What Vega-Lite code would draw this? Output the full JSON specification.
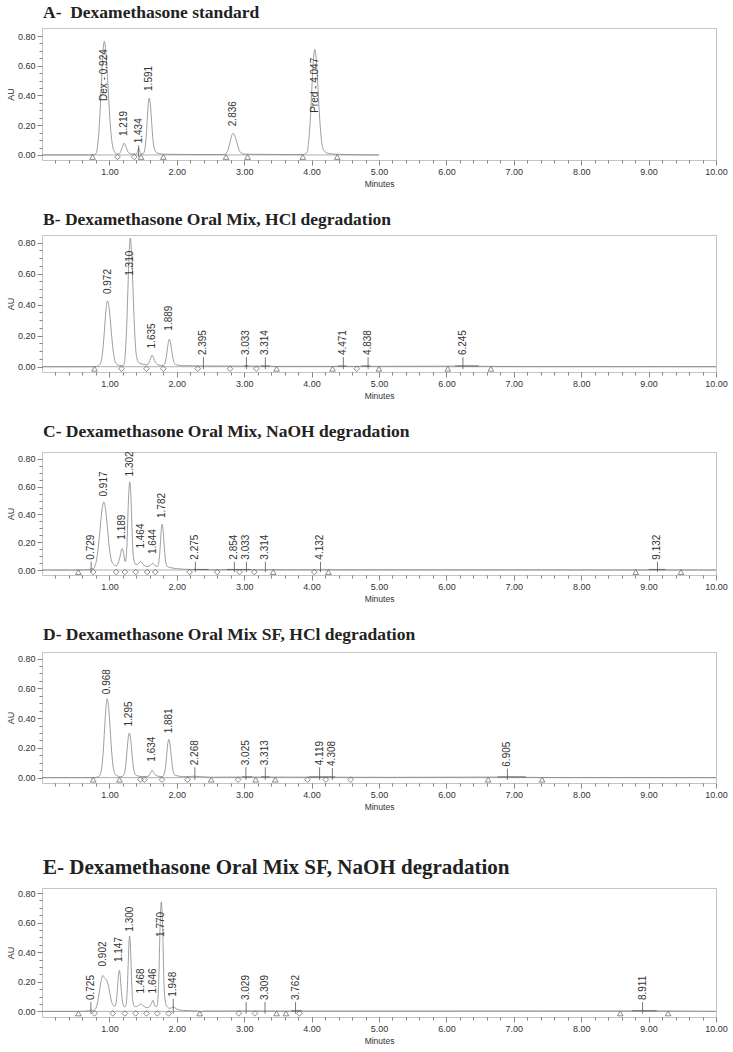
{
"$schema":"https://vega.github.io/schema/vega-lite/v6.json",
"padding":{"top":3,"left":5,"right":5,"bottom":0},
"background":"white",
"datasets":{
"trace":[
{"p":"A","t":0,"au":0},{"p":"A","t":0.7,"au":0},{"p":"A","t":0.75,"au":0.001},{"p":"A","t":0.8,"au":0.008},{"p":"A","t":0.834,"au":0.1},{"p":"A","t":0.857,"au":0.25},{"p":"A","t":0.879,"au":0.464},{"p":"A","t":0.902,"au":0.675},{"p":"A","t":0.924,"au":0.765},{"p":"A","t":0.951,"au":0.675},{"p":"A","t":0.979,"au":0.464},{"p":"A","t":1.006,"au":0.25},{"p":"A","t":1.034,"au":0.103},{"p":"A","t":1.07,"au":0.025},{"p":"A","t":1.1,"au":0.01},{"p":"A","t":1.13,"au":0.006},{"p":"A","t":1.16,"au":0.015},{"p":"A","t":1.19,"au":0.05},{"p":"A","t":1.219,"au":0.08},{"p":"A","t":1.25,"au":0.05},{"p":"A","t":1.28,"au":0.018},{"p":"A","t":1.33,"au":0.007},{"p":"A","t":1.4,"au":0.006},{"p":"A","t":1.422,"au":0.03},{"p":"A","t":1.434,"au":0.047},{"p":"A","t":1.446,"au":0.03},{"p":"A","t":1.47,"au":0.008},{"p":"A","t":1.5,"au":0.008},{"p":"A","t":1.531,"au":0.055},{"p":"A","t":1.546,"au":0.125},{"p":"A","t":1.561,"au":0.232},{"p":"A","t":1.576,"au":0.338},{"p":"A","t":1.591,"au":0.383},{"p":"A","t":1.608,"au":0.338},{"p":"A","t":1.625,"au":0.232},{"p":"A","t":1.642,"au":0.125},{"p":"A","t":1.66,"au":0.055},{"p":"A","t":1.7,"au":0.015},{"p":"A","t":1.8,"au":0.005},{"p":"A","t":2.2,"au":0.003},{"p":"A","t":2.7,"au":0.003},{"p":"A","t":2.746,"au":0.02},{"p":"A","t":2.768,"au":0.047},{"p":"A","t":2.791,"au":0.088},{"p":"A","t":2.813,"au":0.128},{"p":"A","t":2.836,"au":0.145},{"p":"A","t":2.862,"au":0.128},{"p":"A","t":2.888,"au":0.088},{"p":"A","t":2.914,"au":0.047},{"p":"A","t":2.94,"au":0.02},{"p":"A","t":2.98,"au":0.008},{"p":"A","t":3.05,"au":0.005},{"p":"A","t":3.5,"au":0.003},{"p":"A","t":3.88,"au":0.002},{"p":"A","t":3.935,"au":0.02},{"p":"A","t":3.957,"au":0.096},{"p":"A","t":3.98,"au":0.231},{"p":"A","t":4.002,"au":0.431},{"p":"A","t":4.025,"au":0.626},{"p":"A","t":4.047,"au":0.71},{"p":"A","t":4.072,"au":0.626},{"p":"A","t":4.097,"au":0.431},{"p":"A","t":4.122,"au":0.231},{"p":"A","t":4.147,"au":0.096},{"p":"A","t":4.18,"au":0.03},{"p":"A","t":4.25,"au":0.01},{"p":"A","t":4.4,"au":0.004},{"p":"A","t":5.0,"au":0},
{"p":"B","t":0,"au":0},{"p":"B","t":0.78,"au":0},{"p":"B","t":0.83,"au":0.005},{"p":"B","t":0.866,"au":0.02},{"p":"B","t":0.888,"au":0.057},{"p":"B","t":0.909,"au":0.138},{"p":"B","t":0.93,"au":0.257},{"p":"B","t":0.951,"au":0.374},{"p":"B","t":0.972,"au":0.424},{"p":"B","t":0.997,"au":0.374},{"p":"B","t":1.022,"au":0.257},{"p":"B","t":1.047,"au":0.138},{"p":"B","t":1.072,"au":0.057},{"p":"B","t":1.1,"au":0.02},{"p":"B","t":1.15,"au":0.008},{"p":"B","t":1.2,"au":0.006},{"p":"B","t":1.225,"au":0.03},{"p":"B","t":1.24,"au":0.115},{"p":"B","t":1.2575,"au":0.27},{"p":"B","t":1.275,"au":0.504},{"p":"B","t":1.2925,"au":0.732},{"p":"B","t":1.31,"au":0.83},{"p":"B","t":1.33,"au":0.732},{"p":"B","t":1.35,"au":0.504},{"p":"B","t":1.37,"au":0.27},{"p":"B","t":1.39,"au":0.115},{"p":"B","t":1.41,"au":0.05},{"p":"B","t":1.44,"au":0.025},{"p":"B","t":1.5,"au":0.016},{"p":"B","t":1.56,"au":0.012},{"p":"B","t":1.6,"au":0.04},{"p":"B","t":1.635,"au":0.075},{"p":"B","t":1.67,"au":0.04},{"p":"B","t":1.72,"au":0.012},{"p":"B","t":1.8,"au":0.008},{"p":"B","t":1.829,"au":0.03},{"p":"B","t":1.844,"au":0.063},{"p":"B","t":1.859,"au":0.11},{"p":"B","t":1.874,"au":0.157},{"p":"B","t":1.889,"au":0.178},{"p":"B","t":1.906,"au":0.157},{"p":"B","t":1.923,"au":0.11},{"p":"B","t":1.94,"au":0.063},{"p":"B","t":1.957,"au":0.03},{"p":"B","t":1.99,"au":0.012},{"p":"B","t":2.1,"au":0.007},{"p":"B","t":2.4,"au":0.005},{"p":"B","t":3.0,"au":0.004},{"p":"B","t":3.033,"au":0.007},{"p":"B","t":3.1,"au":0.004},{"p":"B","t":3.5,"au":0.002},{"p":"B","t":4.5,"au":0.002},{"p":"B","t":6.245,"au":0.004},{"p":"B","t":7.0,"au":0.001},{"p":"B","t":10,"au":0},
{"p":"C","t":0,"au":0},{"p":"C","t":0.55,"au":0},{"p":"C","t":0.7,"au":0.003},{"p":"C","t":0.729,"au":0.01},{"p":"C","t":0.76,"au":0.008},{"p":"C","t":0.785,"au":0.03},{"p":"C","t":0.807,"au":0.066},{"p":"C","t":0.8345,"au":0.16},{"p":"C","t":0.862,"au":0.297},{"p":"C","t":0.8895,"au":0.432},{"p":"C","t":0.917,"au":0.49},{"p":"C","t":0.9445,"au":0.432},{"p":"C","t":0.972,"au":0.297},{"p":"C","t":0.9995,"au":0.16},{"p":"C","t":1.027,"au":0.075},{"p":"C","t":1.06,"au":0.04},{"p":"C","t":1.1,"au":0.03},{"p":"C","t":1.13,"au":0.05},{"p":"C","t":1.159,"au":0.1},{"p":"C","t":1.174,"au":0.137},{"p":"C","t":1.189,"au":0.155},{"p":"C","t":1.204,"au":0.137},{"p":"C","t":1.22,"au":0.09},{"p":"C","t":1.235,"au":0.06},{"p":"C","t":1.25,"au":0.1},{"p":"C","t":1.262,"au":0.2},{"p":"C","t":1.274,"au":0.385},{"p":"C","t":1.288,"au":0.56},{"p":"C","t":1.302,"au":0.635},{"p":"C","t":1.316,"au":0.56},{"p":"C","t":1.33,"au":0.385},{"p":"C","t":1.344,"au":0.18},{"p":"C","t":1.36,"au":0.08},{"p":"C","t":1.39,"au":0.04},{"p":"C","t":1.42,"au":0.04},{"p":"C","t":1.44,"au":0.05},{"p":"C","t":1.464,"au":0.062},{"p":"C","t":1.5,"au":0.04},{"p":"C","t":1.55,"au":0.025},{"p":"C","t":1.6,"au":0.03},{"p":"C","t":1.644,"au":0.048},{"p":"C","t":1.68,"au":0.03},{"p":"C","t":1.71,"au":0.025},{"p":"C","t":1.725,"au":0.035},{"p":"C","t":1.737,"au":0.07},{"p":"C","t":1.748,"au":0.13},{"p":"C","t":1.76,"au":0.22},{"p":"C","t":1.771,"au":0.3},{"p":"C","t":1.782,"au":0.33},{"p":"C","t":1.796,"au":0.29},{"p":"C","t":1.81,"au":0.2},{"p":"C","t":1.824,"au":0.107},{"p":"C","t":1.838,"au":0.05},{"p":"C","t":1.86,"au":0.025},{"p":"C","t":1.9,"au":0.018},{"p":"C","t":2.0,"au":0.01},{"p":"C","t":2.2,"au":0.004},{"p":"C","t":2.5,"au":0.002},{"p":"C","t":10,"au":0},
{"p":"D","t":0,"au":0},{"p":"D","t":0.78,"au":0},{"p":"D","t":0.848,"au":0.01},{"p":"D","t":0.888,"au":0.072},{"p":"D","t":0.908,"au":0.172},{"p":"D","t":0.928,"au":0.322},{"p":"D","t":0.948,"au":0.467},{"p":"D","t":0.968,"au":0.53},{"p":"D","t":0.99,"au":0.467},{"p":"D","t":1.012,"au":0.322},{"p":"D","t":1.034,"au":0.172},{"p":"D","t":1.056,"au":0.072},{"p":"D","t":1.09,"au":0.02},{"p":"D","t":1.17,"au":0.006},{"p":"D","t":1.205,"au":0.012},{"p":"D","t":1.229,"au":0.041},{"p":"D","t":1.2455,"au":0.098},{"p":"D","t":1.262,"au":0.182},{"p":"D","t":1.2785,"au":0.265},{"p":"D","t":1.295,"au":0.3},{"p":"D","t":1.313,"au":0.265},{"p":"D","t":1.331,"au":0.182},{"p":"D","t":1.349,"au":0.098},{"p":"D","t":1.367,"au":0.041},{"p":"D","t":1.4,"au":0.014},{"p":"D","t":1.5,"au":0.007},{"p":"D","t":1.58,"au":0.01},{"p":"D","t":1.61,"au":0.03},{"p":"D","t":1.634,"au":0.05},{"p":"D","t":1.66,"au":0.03},{"p":"D","t":1.72,"au":0.01},{"p":"D","t":1.79,"au":0.007},{"p":"D","t":1.821,"au":0.04},{"p":"D","t":1.836,"au":0.084},{"p":"D","t":1.851,"au":0.156},{"p":"D","t":1.866,"au":0.227},{"p":"D","t":1.881,"au":0.257},{"p":"D","t":1.898,"au":0.227},{"p":"D","t":1.915,"au":0.156},{"p":"D","t":1.932,"au":0.084},{"p":"D","t":1.949,"au":0.04},{"p":"D","t":1.98,"au":0.015},{"p":"D","t":2.1,"au":0.007},{"p":"D","t":2.268,"au":0.009},{"p":"D","t":2.5,"au":0.003},{"p":"D","t":3.025,"au":0.004},{"p":"D","t":4.2,"au":0.003},{"p":"D","t":5.2,"au":0.002},{"p":"D","t":6.905,"au":0.004},{"p":"D","t":7.4,"au":0.001},{"p":"D","t":10,"au":0},
{"p":"E","t":0,"au":0},{"p":"E","t":0.55,"au":0},{"p":"E","t":0.7,"au":0.004},{"p":"E","t":0.725,"au":0.01},{"p":"E","t":0.75,"au":0.006},{"p":"E","t":0.78,"au":0.01},{"p":"E","t":0.82,"au":0.05},{"p":"E","t":0.85,"au":0.13},{"p":"E","t":0.875,"au":0.2},{"p":"E","t":0.902,"au":0.243},{"p":"E","t":0.93,"au":0.225},{"p":"E","t":0.96,"au":0.21},{"p":"E","t":0.99,"au":0.165},{"p":"E","t":1.02,"au":0.09},{"p":"E","t":1.05,"au":0.045},{"p":"E","t":1.08,"au":0.035},{"p":"E","t":1.097,"au":0.05},{"p":"E","t":1.11,"au":0.1},{"p":"E","t":1.122,"au":0.17},{"p":"E","t":1.135,"au":0.245},{"p":"E","t":1.147,"au":0.277},{"p":"E","t":1.16,"au":0.245},{"p":"E","t":1.172,"au":0.17},{"p":"E","t":1.185,"au":0.1},{"p":"E","t":1.2,"au":0.05},{"p":"E","t":1.225,"au":0.03},{"p":"E","t":1.245,"au":0.04},{"p":"E","t":1.258,"au":0.09},{"p":"E","t":1.268,"au":0.18},{"p":"E","t":1.278,"au":0.31},{"p":"E","t":1.289,"au":0.45},{"p":"E","t":1.3,"au":0.51},{"p":"E","t":1.311,"au":0.45},{"p":"E","t":1.322,"au":0.31},{"p":"E","t":1.333,"au":0.17},{"p":"E","t":1.344,"au":0.08},{"p":"E","t":1.37,"au":0.035},{"p":"E","t":1.4,"au":0.032},{"p":"E","t":1.43,"au":0.04},{"p":"E","t":1.468,"au":0.05},{"p":"E","t":1.51,"au":0.035},{"p":"E","t":1.56,"au":0.025},{"p":"E","t":1.6,"au":0.035},{"p":"E","t":1.625,"au":0.055},{"p":"E","t":1.646,"au":0.075},{"p":"E","t":1.665,"au":0.05},{"p":"E","t":1.69,"au":0.03},{"p":"E","t":1.71,"au":0.04},{"p":"E","t":1.722,"au":0.1},{"p":"E","t":1.733,"au":0.22},{"p":"E","t":1.745,"au":0.45},{"p":"E","t":1.757,"au":0.65},{"p":"E","t":1.77,"au":0.74},{"p":"E","t":1.783,"au":0.65},{"p":"E","t":1.796,"au":0.45},{"p":"E","t":1.808,"au":0.22},{"p":"E","t":1.82,"au":0.1},{"p":"E","t":1.85,"au":0.035},{"p":"E","t":1.9,"au":0.02},{"p":"E","t":1.948,"au":0.03},{"p":"E","t":2.0,"au":0.015},{"p":"E","t":2.1,"au":0.006},{"p":"E","t":2.3,"au":0.003},{"p":"E","t":2.35,"au":-0.004},{"p":"E","t":2.4,"au":0.002},{"p":"E","t":3.0,"au":0.003},{"p":"E","t":3.8,"au":0.002},{"p":"E","t":8.9,"au":0.003},{"p":"E","t":10,"au":0}
],
"peaks":[
{"p":"A","t":0.924,"label":"Dex - 0.924","au":0.35,"v":false},{"p":"A","t":1.219,"label":"1.219","au":0.114,"v":false},{"p":"A","t":1.434,"label":"1.434","au":0.065,"v":true},{"p":"A","t":1.591,"label":"1.591","au":0.417,"v":false},{"p":"A","t":2.836,"label":"2.836","au":0.18,"v":false},{"p":"A","t":4.047,"label":"Pred - 4.047","au":0.27,"v":false},
{"p":"B","t":0.972,"label":"0.972","au":0.456,"v":false},{"p":"B","t":1.31,"label":"1.310","au":0.574,"v":false},{"p":"B","t":1.635,"label":"1.635","au":0.105,"v":false},{"p":"B","t":1.889,"label":"1.889","au":0.22,"v":false},{"p":"B","t":2.395,"label":"2.395","au":0.062,"v":true},{"p":"B","t":3.033,"label":"3.033","au":0.062,"v":true},{"p":"B","t":3.314,"label":"3.314","au":0.062,"v":true},{"p":"B","t":4.471,"label":"4.471","au":0.062,"v":true},{"p":"B","t":4.838,"label":"4.838","au":0.062,"v":true},{"p":"B","t":6.245,"label":"6.245","au":0.062,"v":true},
{"p":"C","t":0.729,"label":"0.729","au":0.06,"v":true},{"p":"C","t":0.917,"label":"0.917","au":0.515,"v":false},{"p":"C","t":1.189,"label":"1.189","au":0.204,"v":false},{"p":"C","t":1.302,"label":"1.302","au":0.66,"v":false},{"p":"C","t":1.464,"label":"1.464","au":0.14,"v":false},{"p":"C","t":1.644,"label":"1.644","au":0.1,"v":false},{"p":"C","t":1.782,"label":"1.782","au":0.36,"v":false},{"p":"C","t":2.275,"label":"2.275","au":0.06,"v":true},{"p":"C","t":2.854,"label":"2.854","au":0.06,"v":true},{"p":"C","t":3.033,"label":"3.033","au":0.06,"v":true},{"p":"C","t":3.314,"label":"3.314","au":0.06,"v":true},{"p":"C","t":4.132,"label":"4.132","au":0.06,"v":true},{"p":"C","t":9.132,"label":"9.132","au":0.06,"v":true},
{"p":"D","t":0.968,"label":"0.968","au":0.547,"v":false},{"p":"D","t":1.295,"label":"1.295","au":0.33,"v":false},{"p":"D","t":1.634,"label":"1.634","au":0.094,"v":false},{"p":"D","t":1.881,"label":"1.881","au":0.284,"v":false},{"p":"D","t":2.268,"label":"2.268","au":0.07,"v":true},{"p":"D","t":3.025,"label":"3.025","au":0.07,"v":true},{"p":"D","t":3.313,"label":"3.313","au":0.07,"v":true},{"p":"D","t":4.119,"label":"4.119","au":0.07,"v":true},{"p":"D","t":4.308,"label":"4.308","au":0.065,"v":true},{"p":"D","t":6.905,"label":"6.905","au":0.06,"v":true},
{"p":"E","t":0.725,"label":"0.725","au":0.063,"v":true},{"p":"E","t":0.902,"label":"0.902","au":0.29,"v":false},{"p":"E","t":1.147,"label":"1.147","au":0.32,"v":false},{"p":"E","t":1.3,"label":"1.300","au":0.525,"v":false},{"p":"E","t":1.468,"label":"1.468","au":0.108,"v":false},{"p":"E","t":1.646,"label":"1.646","au":0.108,"v":false},{"p":"E","t":1.77,"label":"1.770","au":0.49,"v":false},{"p":"E","t":1.948,"label":"1.948","au":0.085,"v":true},{"p":"E","t":3.029,"label":"3.029","au":0.063,"v":true},{"p":"E","t":3.309,"label":"3.309","au":0.063,"v":true},{"p":"E","t":3.762,"label":"3.762","au":0.063,"v":true},{"p":"E","t":8.911,"label":"8.911","au":0.063,"v":true}
],
"marks":[
{"p":"A","t":0.75,"au":0,"s":"tri"},{"p":"A","t":1.12,"au":0,"s":"dia"},{"p":"A","t":1.37,"au":0,"s":"dia"},{"p":"A","t":1.47,"au":0,"s":"tri"},{"p":"A","t":1.8,"au":0,"s":"tri"},{"p":"A","t":2.73,"au":0,"s":"tri"},{"p":"A","t":3.05,"au":0,"s":"tri"},{"p":"A","t":3.87,"au":0,"s":"tri"},{"p":"A","t":4.38,"au":0,"s":"tri"},
{"p":"B","t":0.78,"au":0,"s":"tri"},{"p":"B","t":1.18,"au":0,"s":"dia"},{"p":"B","t":1.55,"au":0,"s":"dia"},{"p":"B","t":1.8,"au":0,"s":"dia"},{"p":"B","t":2.31,"au":0,"s":"dia"},{"p":"B","t":2.79,"au":0,"s":"dia"},{"p":"B","t":3.18,"au":0,"s":"dia"},{"p":"B","t":3.48,"au":0,"s":"tri"},{"p":"B","t":4.31,"au":0,"s":"tri"},{"p":"B","t":4.67,"au":0,"s":"dia"},{"p":"B","t":5.0,"au":0,"s":"tri"},{"p":"B","t":6.02,"au":0,"s":"tri"},{"p":"B","t":6.66,"au":0,"s":"tri"},
{"p":"C","t":0.54,"au":0,"s":"tri"},{"p":"C","t":0.76,"au":0,"s":"dia"},{"p":"C","t":1.1,"au":0,"s":"dia"},{"p":"C","t":1.23,"au":0,"s":"dia"},{"p":"C","t":1.39,"au":0,"s":"dia"},{"p":"C","t":1.56,"au":0,"s":"dia"},{"p":"C","t":1.68,"au":0,"s":"dia"},{"p":"C","t":2.19,"au":0,"s":"dia"},{"p":"C","t":2.6,"au":0,"s":"dia"},{"p":"C","t":2.93,"au":0,"s":"dia"},{"p":"C","t":3.15,"au":0,"s":"dia"},{"p":"C","t":3.43,"au":0,"s":"tri"},{"p":"C","t":4.04,"au":0,"s":"dia"},{"p":"C","t":4.25,"au":0,"s":"tri"},{"p":"C","t":8.81,"au":0,"s":"tri"},{"p":"C","t":9.48,"au":0,"s":"tri"},
{"p":"D","t":0.76,"au":0,"s":"tri"},{"p":"D","t":1.15,"au":0,"s":"tri"},{"p":"D","t":1.46,"au":0,"s":"dia"},{"p":"D","t":1.52,"au":0,"s":"dia"},{"p":"D","t":1.78,"au":0,"s":"dia"},{"p":"D","t":2.16,"au":0,"s":"dia"},{"p":"D","t":2.51,"au":0,"s":"tri"},{"p":"D","t":2.91,"au":0,"s":"dia"},{"p":"D","t":3.17,"au":0,"s":"tri"},{"p":"D","t":3.46,"au":0,"s":"tri"},{"p":"D","t":3.94,"au":0,"s":"dia"},{"p":"D","t":4.21,"au":0,"s":"dia"},{"p":"D","t":4.58,"au":0,"s":"dia"},{"p":"D","t":6.62,"au":0,"s":"tri"},{"p":"D","t":7.42,"au":0,"s":"tri"},
{"p":"E","t":0.54,"au":0,"s":"tri"},{"p":"E","t":0.78,"au":0,"s":"dia"},{"p":"E","t":1.05,"au":0,"s":"dia"},{"p":"E","t":1.23,"au":0,"s":"dia"},{"p":"E","t":1.39,"au":0,"s":"dia"},{"p":"E","t":1.55,"au":0,"s":"dia"},{"p":"E","t":1.71,"au":0,"s":"dia"},{"p":"E","t":1.88,"au":0,"s":"dia"},{"p":"E","t":2.34,"au":0,"s":"tri"},{"p":"E","t":2.92,"au":0,"s":"dia"},{"p":"E","t":3.16,"au":0,"s":"dia"},{"p":"E","t":3.48,"au":0,"s":"tri"},{"p":"E","t":3.62,"au":0,"s":"tri"},{"p":"E","t":3.82,"au":0,"s":"dia"},{"p":"E","t":8.58,"au":0,"s":"tri"},{"p":"E","t":9.29,"au":0,"s":"tri"}
],
"segs":[
{"p":"B","t":3.0,"t2":3.06,"au":0.005},{"p":"B","t":3.25,"t2":3.38,"au":0.005},{"p":"B","t":4.39,"t2":4.52,"au":0.005},{"p":"B","t":4.74,"t2":4.87,"au":0.005},{"p":"B","t":6.13,"t2":6.48,"au":0.005},
{"p":"C","t":2.25,"t2":2.47,"au":0.004},{"p":"C","t":2.74,"t2":3.09,"au":0.004},{"p":"C","t":9.0,"t2":9.25,"au":0.004},
{"p":"D","t":2.97,"t2":3.12,"au":0.005},{"p":"D","t":3.25,"t2":3.38,"au":0.005},{"p":"D","t":3.96,"t2":4.35,"au":0.005},{"p":"D","t":6.76,"t2":7.18,"au":0.005},
{"p":"E","t":3.7,"t2":3.85,"au":0.004},{"p":"E","t":8.75,"t2":9.12,"au":0.004}
]
},
"vconcat":[
{"spacing":22,"vconcat":[
{
"title":{"text":"A-\u00a0 Dexamethasone standard","offset":6.5},
"width":674,"height":132,
"encoding":{
"x":{"field":"t","type":"quantitative","scale":{"domain":[0,10],"nice":false,"zero":false},"axis":{"title":"Minutes","values":[0.2,0.4,0.6,0.8,1,1.2,1.4,1.6,1.8,2,2.2,2.4,2.6,2.8,3,3.2,3.4,3.6,3.8,4,4.2,4.4,4.6,4.8,5,5.2,5.4,5.6,5.8,6,6.2,6.4,6.6,6.8,7,7.2,7.4,7.6,7.8,8,8.2,8.4,8.6,8.8,9,9.2,9.4,9.6,9.8,10],"labelExpr":"datum.value % 1 === 0 ? format(datum.value, '.2f') : ''","tickSize":{"condition":{"test":"datum.value % 1 === 0","value":5},"value":3},"labelOverlap":false,"labelFlush":false}},
"y":{"field":"au","type":"quantitative","scale":{"domain":[-0.034,0.854],"nice":false,"zero":false},"axis":{"title":"AU","values":[0,0.05,0.1,0.15,0.2,0.25,0.3,0.35,0.4,0.45,0.5,0.55,0.6,0.65,0.7,0.75,0.8],"labelExpr":"indexof([0,0.2,0.4,0.6,0.8], datum.value) >= 0 ? format(datum.value, '.2f') : ''","tickSize":{"condition":{"test":"indexof([0,0.2,0.4,0.6,0.8], datum.value) >= 0","value":5},"value":3},"labelOverlap":false}}
},
"layer":[
{"data":{"values":[{"t":0,"t2":5,"au":0}]},"mark":{"type":"rule","color":"#9a9a9a","strokeWidth":0.8},"encoding":{"x2":{"field":"t2"}}},
{"data":{"name":"trace"},"transform":[{"filter":"datum.p === 'A'"}],"mark":{"type":"line","color":"#858585","strokeWidth":0.8,"interpolate":"monotone"},"encoding":{}},
{"data":{"name":"peaks"},"transform":[{"filter":"datum.p === 'A' && datum.v"}],"mark":{"type":"rule","color":"#555","strokeWidth":0.8},"encoding":{"y2":{"datum":-0.015}}},
{"data":{"name":"marks"},"transform":[{"filter":"datum.p === 'A'"}],"mark":{"type":"point","filled":false,"size":32,"strokeWidth":0.8,"color":"#707070","opacity":1,"yOffset":2},"encoding":{"shape":{"field":"s","type":"nominal","scale":{"domain":["tri","dia"],"range":["triangle-up","diamond"]},"legend":null}}},
{"data":{"name":"peaks"},"transform":[{"filter":"datum.p === 'A'"}],"mark":{"type":"text","angle":270,"align":"left","baseline":"middle","dx":2,"fontSize":10,"font":"Liberation Sans","color":"#333"},"encoding":{"text":{"field":"label"}}}
]
},
{
"title":{"text":"B- Dexamethasone Oral Mix, HCl degradation","offset":6.5},
"width":674,"height":137,
"encoding":{
"x":{"field":"t","type":"quantitative","scale":{"domain":[0,10],"nice":false,"zero":false},"axis":{"title":"Minutes","values":[0.2,0.4,0.6,0.8,1,1.2,1.4,1.6,1.8,2,2.2,2.4,2.6,2.8,3,3.2,3.4,3.6,3.8,4,4.2,4.4,4.6,4.8,5,5.2,5.4,5.6,5.8,6,6.2,6.4,6.6,6.8,7,7.2,7.4,7.6,7.8,8,8.2,8.4,8.6,8.8,9,9.2,9.4,9.6,9.8,10],"labelExpr":"datum.value % 1 === 0 ? format(datum.value, '.2f') : ''","tickSize":{"condition":{"test":"datum.value % 1 === 0","value":5},"value":3},"labelOverlap":false,"labelFlush":false}},
"y":{"field":"au","type":"quantitative","scale":{"domain":[-0.034,0.85],"nice":false,"zero":false},"axis":{"title":"AU","values":[0,0.05,0.1,0.15,0.2,0.25,0.3,0.35,0.4,0.45,0.5,0.55,0.6,0.65,0.7,0.75,0.8],"labelExpr":"indexof([0,0.2,0.4,0.6,0.8], datum.value) >= 0 ? format(datum.value, '.2f') : ''","tickSize":{"condition":{"test":"indexof([0,0.2,0.4,0.6,0.8], datum.value) >= 0","value":5},"value":3},"labelOverlap":false}}
},
"layer":[
{"data":{"values":[{"t":0,"t2":10,"au":0}]},"mark":{"type":"rule","color":"#9a9a9a","strokeWidth":0.8},"encoding":{"x2":{"field":"t2"}}},
{"data":{"name":"trace"},"transform":[{"filter":"datum.p === 'B'"}],"mark":{"type":"line","color":"#858585","strokeWidth":0.8,"interpolate":"monotone"},"encoding":{}},
{"data":{"name":"segs"},"transform":[{"filter":"datum.p === 'B'"}],"mark":{"type":"rule","color":"#555","strokeWidth":0.8},"encoding":{"x2":{"field":"t2"}}},
{"data":{"name":"peaks"},"transform":[{"filter":"datum.p === 'B' && datum.v"}],"mark":{"type":"rule","color":"#555","strokeWidth":0.8},"encoding":{"y2":{"datum":-0.015}}},
{"data":{"name":"marks"},"transform":[{"filter":"datum.p === 'B'"}],"mark":{"type":"point","filled":false,"size":32,"strokeWidth":0.8,"color":"#707070","opacity":1,"yOffset":2},"encoding":{"shape":{"field":"s","type":"nominal","scale":{"domain":["tri","dia"],"range":["triangle-up","diamond"]},"legend":null}}},
{"data":{"name":"peaks"},"transform":[{"filter":"datum.p === 'B'"}],"mark":{"type":"text","angle":270,"align":"left","baseline":"middle","dx":2,"fontSize":10,"font":"Liberation Sans","color":"#333"},"encoding":{"text":{"field":"label"}}}
]
},
{
"title":{"text":"C- Dexamethasone Oral Mix, NaOH degradation","offset":10.5},
"width":674,"height":123,
"encoding":{
"x":{"field":"t","type":"quantitative","scale":{"domain":[0,10],"nice":false,"zero":false},"axis":{"title":"Minutes","values":[0.2,0.4,0.6,0.8,1,1.2,1.4,1.6,1.8,2,2.2,2.4,2.6,2.8,3,3.2,3.4,3.6,3.8,4,4.2,4.4,4.6,4.8,5,5.2,5.4,5.6,5.8,6,6.2,6.4,6.6,6.8,7,7.2,7.4,7.6,7.8,8,8.2,8.4,8.6,8.8,9,9.2,9.4,9.6,9.8,10],"labelExpr":"datum.value % 1 === 0 ? format(datum.value, '.2f') : ''","tickSize":{"condition":{"test":"datum.value % 1 === 0","value":5},"value":3},"labelOverlap":false,"labelFlush":false}},
"y":{"field":"au","type":"quantitative","scale":{"domain":[-0.036,0.85],"nice":false,"zero":false},"axis":{"title":"AU","values":[0,0.05,0.1,0.15,0.2,0.25,0.3,0.35,0.4,0.45,0.5,0.55,0.6,0.65,0.7,0.75,0.8],"labelExpr":"indexof([0,0.2,0.4,0.6,0.8], datum.value) >= 0 ? format(datum.value, '.2f') : ''","tickSize":{"condition":{"test":"indexof([0,0.2,0.4,0.6,0.8], datum.value) >= 0","value":5},"value":3},"labelOverlap":false}}
},
"layer":[
{"data":{"values":[{"t":0,"t2":10,"au":0}]},"mark":{"type":"rule","color":"#9a9a9a","strokeWidth":0.8},"encoding":{"x2":{"field":"t2"}}},
{"data":{"name":"trace"},"transform":[{"filter":"datum.p === 'C'"}],"mark":{"type":"line","color":"#858585","strokeWidth":0.8,"interpolate":"monotone"},"encoding":{}},
{"data":{"name":"segs"},"transform":[{"filter":"datum.p === 'C'"}],"mark":{"type":"rule","color":"#555","strokeWidth":0.8},"encoding":{"x2":{"field":"t2"}}},
{"data":{"name":"peaks"},"transform":[{"filter":"datum.p === 'C' && datum.v"}],"mark":{"type":"rule","color":"#555","strokeWidth":0.8},"encoding":{"y2":{"datum":-0.015}}},
{"data":{"name":"marks"},"transform":[{"filter":"datum.p === 'C'"}],"mark":{"type":"point","filled":false,"size":32,"strokeWidth":0.8,"color":"#707070","opacity":1,"yOffset":2},"encoding":{"shape":{"field":"s","type":"nominal","scale":{"domain":["tri","dia"],"range":["triangle-up","diamond"]},"legend":null}}},
{"data":{"name":"peaks"},"transform":[{"filter":"datum.p === 'C'"}],"mark":{"type":"text","angle":270,"align":"left","baseline":"middle","dx":2,"fontSize":10,"font":"Liberation Sans","color":"#333"},"encoding":{"text":{"field":"label"}}}
]
},
{
"title":{"text":"D- Dexamethasone Oral Mix SF, HCl degradation","offset":8.5},
"width":674,"height":131,
"encoding":{
"x":{"field":"t","type":"quantitative","scale":{"domain":[0,10],"nice":false,"zero":false},"axis":{"title":"Minutes","values":[0.2,0.4,0.6,0.8,1,1.2,1.4,1.6,1.8,2,2.2,2.4,2.6,2.8,3,3.2,3.4,3.6,3.8,4,4.2,4.4,4.6,4.8,5,5.2,5.4,5.6,5.8,6,6.2,6.4,6.6,6.8,7,7.2,7.4,7.6,7.8,8,8.2,8.4,8.6,8.8,9,9.2,9.4,9.6,9.8,10],"labelExpr":"datum.value % 1 === 0 ? format(datum.value, '.2f') : ''","tickSize":{"condition":{"test":"datum.value % 1 === 0","value":5},"value":3},"labelOverlap":false,"labelFlush":false}},
"y":{"field":"au","type":"quantitative","scale":{"domain":[-0.036,0.844],"nice":false,"zero":false},"axis":{"title":"AU","values":[0,0.05,0.1,0.15,0.2,0.25,0.3,0.35,0.4,0.45,0.5,0.55,0.6,0.65,0.7,0.75,0.8],"labelExpr":"indexof([0,0.2,0.4,0.6,0.8], datum.value) >= 0 ? format(datum.value, '.2f') : ''","tickSize":{"condition":{"test":"indexof([0,0.2,0.4,0.6,0.8], datum.value) >= 0","value":5},"value":3},"labelOverlap":false}}
},
"layer":[
{"data":{"values":[{"t":0,"t2":10,"au":0}]},"mark":{"type":"rule","color":"#9a9a9a","strokeWidth":0.8},"encoding":{"x2":{"field":"t2"}}},
{"data":{"name":"trace"},"transform":[{"filter":"datum.p === 'D'"}],"mark":{"type":"line","color":"#858585","strokeWidth":0.8,"interpolate":"monotone"},"encoding":{}},
{"data":{"name":"segs"},"transform":[{"filter":"datum.p === 'D'"}],"mark":{"type":"rule","color":"#555","strokeWidth":0.8},"encoding":{"x2":{"field":"t2"}}},
{"data":{"name":"peaks"},"transform":[{"filter":"datum.p === 'D' && datum.v"}],"mark":{"type":"rule","color":"#555","strokeWidth":0.8},"encoding":{"y2":{"datum":-0.015}}},
{"data":{"name":"marks"},"transform":[{"filter":"datum.p === 'D'"}],"mark":{"type":"point","filled":false,"size":32,"strokeWidth":0.8,"color":"#707070","opacity":1,"yOffset":2},"encoding":{"shape":{"field":"s","type":"nominal","scale":{"domain":["tri","dia"],"range":["triangle-up","diamond"]},"legend":null}}},
{"data":{"name":"peaks"},"transform":[{"filter":"datum.p === 'D'"}],"mark":{"type":"text","angle":270,"align":"left","baseline":"middle","dx":2,"fontSize":10,"font":"Liberation Sans","color":"#333"},"encoding":{"text":{"field":"label"}}}
]
}
]},
{
"title":{"text":"E- Dexamethasone Oral Mix SF, NaOH degradation","fontSize":21,"offset":10},
"width":674,"height":129,
"encoding":{
"x":{"field":"t","type":"quantitative","scale":{"domain":[0,10],"nice":false,"zero":false},"axis":{"title":"Minutes","values":[0.2,0.4,0.6,0.8,1,1.2,1.4,1.6,1.8,2,2.2,2.4,2.6,2.8,3,3.2,3.4,3.6,3.8,4,4.2,4.4,4.6,4.8,5,5.2,5.4,5.6,5.8,6,6.2,6.4,6.6,6.8,7,7.2,7.4,7.6,7.8,8,8.2,8.4,8.6,8.8,9,9.2,9.4,9.6,9.8,10],"labelExpr":"datum.value % 1 === 0 ? format(datum.value, '.2f') : ''","tickSize":{"condition":{"test":"datum.value % 1 === 0","value":5},"value":3},"labelOverlap":false,"labelFlush":false}},
"y":{"field":"au","type":"quantitative","scale":{"domain":[-0.038,0.834],"nice":false,"zero":false},"axis":{"title":"AU","values":[0,0.05,0.1,0.15,0.2,0.25,0.3,0.35,0.4,0.45,0.5,0.55,0.6,0.65,0.7,0.75,0.8],"labelExpr":"indexof([0,0.2,0.4,0.6,0.8], datum.value) >= 0 ? format(datum.value, '.2f') : ''","tickSize":{"condition":{"test":"indexof([0,0.2,0.4,0.6,0.8], datum.value) >= 0","value":5},"value":3},"labelOverlap":false}}
},
"layer":[
{"data":{"values":[{"t":0,"t2":10,"au":0}]},"mark":{"type":"rule","color":"#9a9a9a","strokeWidth":0.8},"encoding":{"x2":{"field":"t2"}}},
{"data":{"name":"trace"},"transform":[{"filter":"datum.p === 'E'"}],"mark":{"type":"line","color":"#858585","strokeWidth":0.8,"interpolate":"monotone"},"encoding":{}},
{"data":{"name":"segs"},"transform":[{"filter":"datum.p === 'E'"}],"mark":{"type":"rule","color":"#555","strokeWidth":0.8},"encoding":{"x2":{"field":"t2"}}},
{"data":{"name":"peaks"},"transform":[{"filter":"datum.p === 'E' && datum.v"}],"mark":{"type":"rule","color":"#555","strokeWidth":0.8},"encoding":{"y2":{"datum":-0.015}}},
{"data":{"name":"marks"},"transform":[{"filter":"datum.p === 'E'"}],"mark":{"type":"point","filled":false,"size":32,"strokeWidth":0.8,"color":"#707070","opacity":1,"yOffset":2},"encoding":{"shape":{"field":"s","type":"nominal","scale":{"domain":["tri","dia"],"range":["triangle-up","diamond"]},"legend":null}}},
{"data":{"name":"peaks"},"transform":[{"filter":"datum.p === 'E'"}],"mark":{"type":"text","angle":270,"align":"left","baseline":"middle","dx":2,"fontSize":10,"font":"Liberation Sans","color":"#333"},"encoding":{"text":{"field":"label"}}}
]
}
],
"spacing":45,
"config":{
"view":{"stroke":"#c4c4c4","strokeWidth":1},
"axis":{"domain":false,"grid":false,"tickColor":"#666","tickWidth":0.8,"labelFont":"Liberation Sans","labelFontSize":9,"labelColor":"#333","labelPadding":2,"titleFont":"Liberation Sans","titleFontWeight":"normal","titleColor":"#333","titleFontSize":8.5,"titlePadding":3},
"axisY":{"titleFontSize":9,"titlePadding":2},
"title":{"font":"Liberation Serif","fontWeight":"bold","fontSize":17.5,"anchor":"start","frame":"group","color":"#222","offset":8,"dx":1}
}
}
